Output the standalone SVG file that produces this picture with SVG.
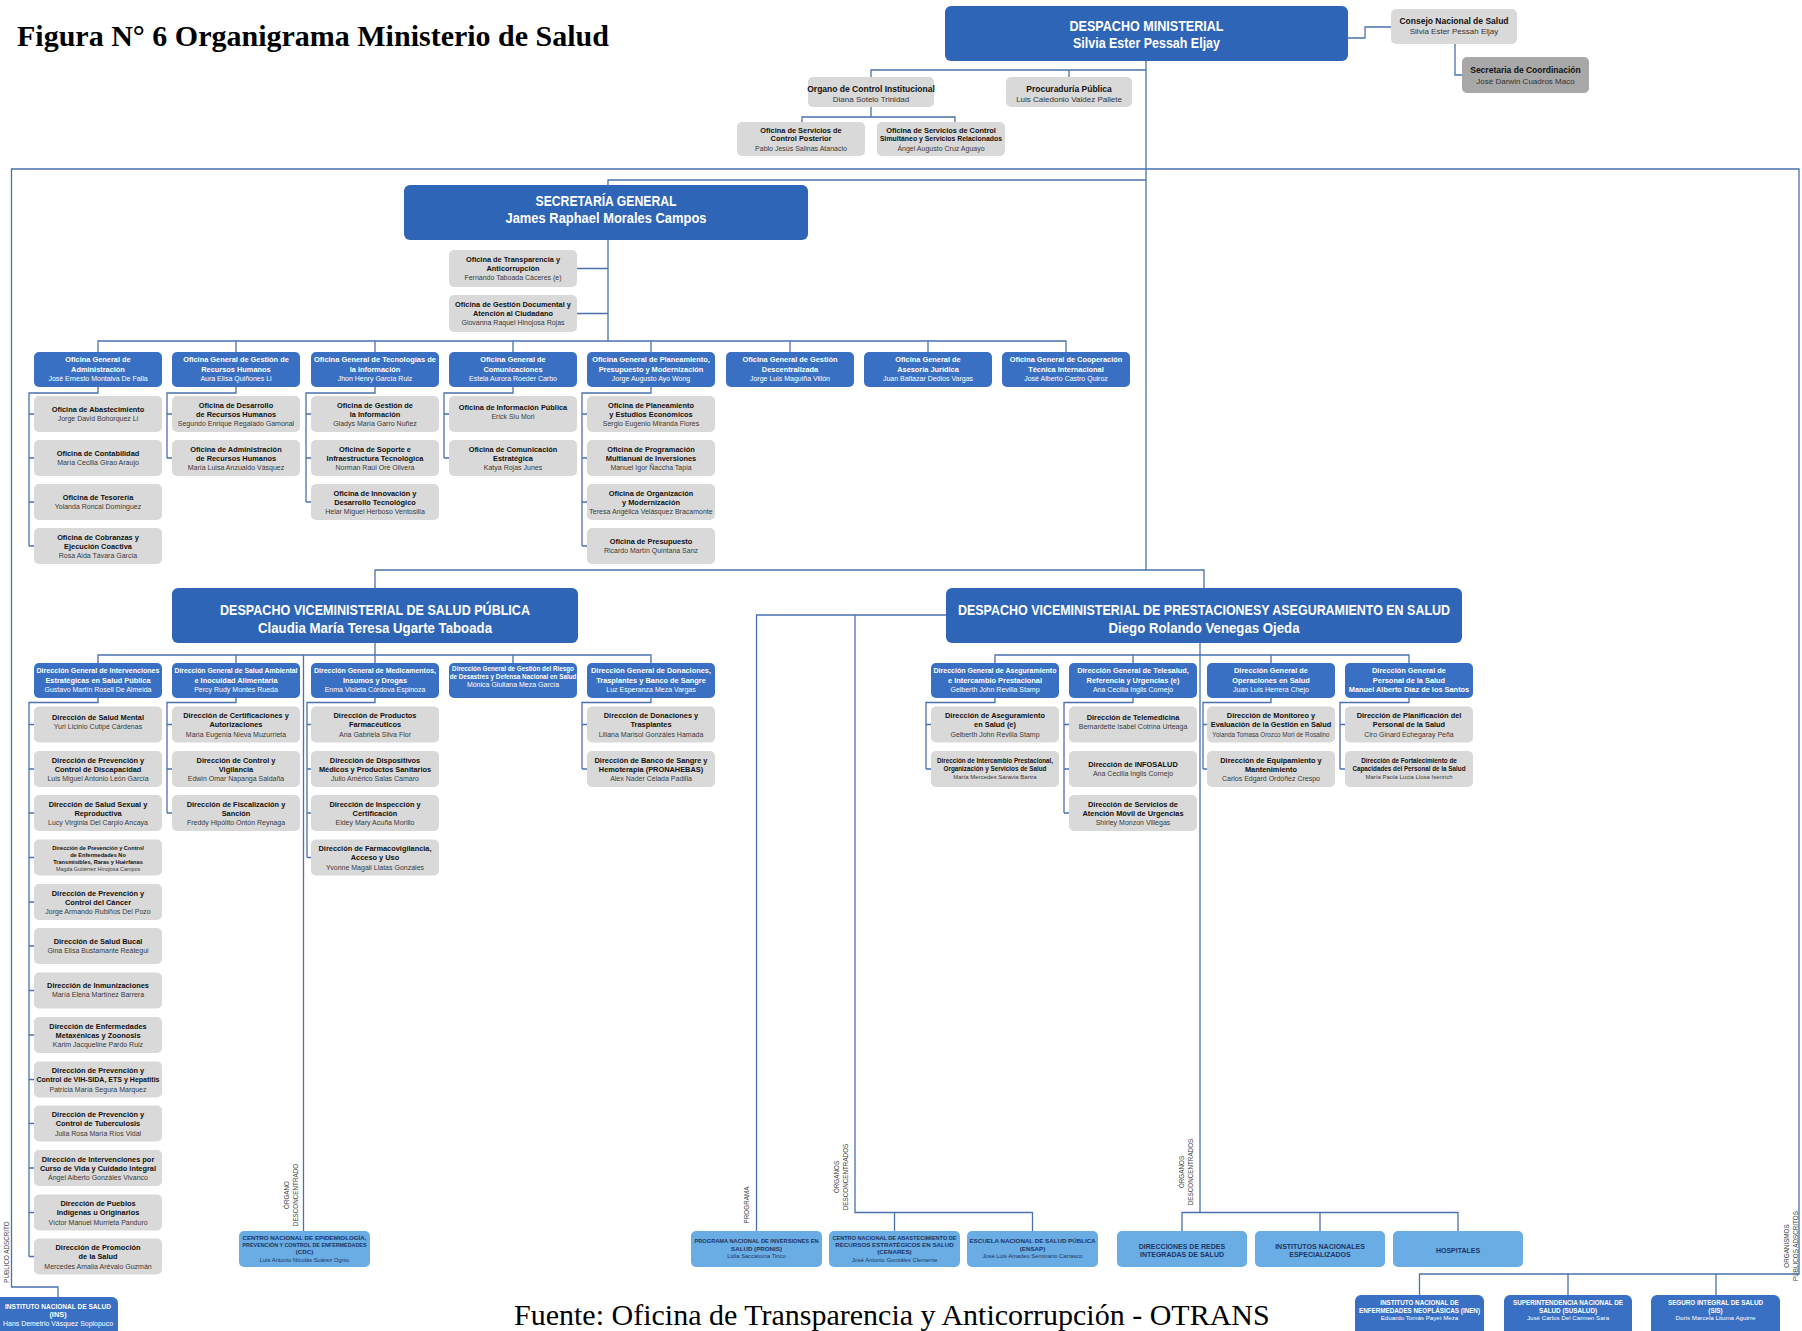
<svg xmlns="http://www.w3.org/2000/svg" width="1802" height="1331" viewBox="0 0 1802 1331">
<style>
.ln{fill:none;stroke:#4a71ad;stroke-width:1.3}
.bb{fill:#2f65b6}
.bs{fill:#3a70c4}
.gr{fill:#d9d9d9}
.gd{fill:#a8a8a8}
.lb{fill:#69ade4}
text{font-family:'Liberation Sans',Arial,sans-serif;text-anchor:middle}
.H{fill:#fff;font-weight:bold;font-size:15px}
.m1{fill:#111;font-weight:bold;font-size:8.5px}
.m2{fill:#333;font-size:8px}
.tb{fill:#111;font-weight:bold;font-size:7.4px}
.tn{fill:#3a3a3a;font-size:7px}
.tx{fill:#111;font-weight:bold;font-size:5.6px}
.tz{fill:#3a3a3a;font-size:5.4px}
.wb{fill:#fff;font-weight:bold;font-size:7.4px}
.wn{fill:#fff;font-size:7px}
.ws{fill:#fff;font-weight:bold;font-size:6.3px}
.lB{fill:#1e3566;font-weight:bold;font-size:6.2px}
.lN{fill:#1e3566;font-size:5.8px}
.rot{fill:#444;font-size:6.3px}
</style>
<rect x="0" y="0" width="1802" height="1331" fill="#fff"/>
<text x="17" y="46" style="font-family:'Liberation Serif','Times New Roman',serif;font-weight:bold;font-size:30px;text-anchor:start;fill:#000">Figura N° 6 Organigrama Ministerio de Salud</text>
<text x="514" y="1325" style="font-family:'Liberation Serif','Times New Roman',serif;font-size:30px;text-anchor:start;fill:#000">Fuente: Oficina de Transparencia y Anticorrupción - OTRANS</text>

<g id="connectors">
<path class="ln" d="M1348,38 H1365 V27 H1391"/>
<path class="ln" d="M1455,44 V75 H1462"/>
<path class="ln" d="M1146,61 V570"/>
<path class="ln" d="M871,77 V70 H1146 M1069,70 V77"/>
<path class="ln" d="M871,107 V117 M802,122 V117 H955 V122"/>
<path class="ln" d="M58,1297 V1287 H11.5 V169 H1799 V1274 H1419.5 V1295 M1568,1274 V1295 M1716,1274 V1295"/>
<path class="ln" d="M1146,180 H608 V185 M608,240 V341 M577,268.5 H608 M577,313.5 H608"/>
<path class="ln" d="M98,352 V341 H1066 V352 M236,341 V352 M375,341 V352 M513,341 V352 M651,341 V352 M790,341 V352 M928,341 V352"/>
<path class="ln" d="M98,387 V393 H29 V546 M29,414 H34 M29,458 H34 M29,502 H34 M29,546 H34"/>
<path class="ln" d="M236,387 V393 H167 V458 M167,414 H172 M167,458 H172"/>
<path class="ln" d="M375,387 V393 H306 V502 M306,414 H311 M306,458 H311 M306,502 H311"/>
<path class="ln" d="M513,387 V393 H444 V458 M444,414 H449 M444,458 H449"/>
<path class="ln" d="M651,387 V393 H582 V546 M582,414 H587 M582,458 H587 M582,502 H587 M582,546 H587"/>
<path class="ln" d="M375,588 V570 H1204 V588"/>
<path class="ln" d="M375,643 V655 M98,663 V655 H651 V663 M236,655 V663 M375,655 V663 M513,655 V663"/>
<path class="ln" d="M303.5,655 V1231"/>
<path class="ln" d="M98,698 V702.5 H29 V1256.5 M29,724.5 H34 M29,769 H34 M29,813 H34 M29,857.5 H34 M29,902 H34 M29,946 H34 M29,990.5 H34 M29,1035 H34 M29,1079.5 H34 M29,1123.5 H34 M29,1168 H34 M29,1212.5 H34 M29,1256.5 H34"/>
<path class="ln" d="M236,698 V702.5 H167 V813 M167,724.5 H172 M167,769 H172 M167,813 H172"/>
<path class="ln" d="M375,698 V702.5 H307 V857.5 M307,724.5 H311 M307,769 H311 M307,813 H311 M307,857.5 H311"/>
<path class="ln" d="M651,698 V702.5 H582 V769 M582,724.5 H587 M582,769 H587"/>
<path class="ln" d="M1200,643 V1212.5 M995,663 V655 H1409 V663 M1133,655 V663 M1271,655 V663"/>
<path class="ln" d="M995,698 V702.5 H926 V769 M926,724.5 H931 M926,769 H931"/>
<path class="ln" d="M1133,698 V702.5 H1064 V813 M1064,724.5 H1069 M1064,769 H1069 M1064,813 H1069"/>
<path class="ln" d="M1271,698 V702.5 H1203 V769 M1203,724.5 H1207 M1203,769 H1207"/>
<path class="ln" d="M1409,698 V702.5 H1340 V769 M1340,724.5 H1345 M1340,769 H1345"/>
<path class="ln" d="M946,615 H756.5 V1231 M855,615 V1212.5 H1032.5 V1231 M894.5,1212.5 V1231"/>
<path class="ln" d="M1182,1231 V1212.5 H1458 V1231 M1320,1212.5 V1231"/>
</g>

<g id="rotlabels">
<text class="rot" transform="translate(9,1252) rotate(-90)">PÚBLICO ADSCRITO</text>
<text class="rot" transform="translate(289,1195) rotate(-90)">ÓRGANO</text>
<text class="rot" transform="translate(297.5,1195) rotate(-90)">DESCONCENTRADO</text>
<text class="rot" transform="translate(749,1205) rotate(-90)">PROGRAMA</text>
<text class="rot" transform="translate(839,1177) rotate(-90)">ÓRGANOS</text>
<text class="rot" transform="translate(847.5,1177) rotate(-90)">DESCONCENTRADOS</text>
<text class="rot" transform="translate(1184,1172) rotate(-90)">ÓRGANOS</text>
<text class="rot" transform="translate(1192.5,1172) rotate(-90)">DESCONCENTRADOS</text>
<text class="rot" transform="translate(1789,1246) rotate(-90)">ORGANISMOS</text>
<text class="rot" transform="translate(1797.5,1246) rotate(-90)">PÚBLICOS ADSCRITOS</text>
</g>

<g id="despacho-ministerial"><rect class="bb" x="945" y="6" width="403" height="55" rx="6"/><text class="H" x="1146.5" y="30.5" textLength="154" lengthAdjust="spacingAndGlyphs">DESPACHO MINISTERIAL</text><text class="H" x="1146.5" y="47.5" textLength="147" lengthAdjust="spacingAndGlyphs">Silvia Ester Pessah Eljay</text></g>
<g id="consejo"><rect class="gr" x="1391" y="9" width="126" height="35" rx="5"/><text class="m1" x="1454" y="23.5">Consejo Nacional de Salud</text><text class="m2" x="1454" y="34">Silvia Ester Pessah Eljay</text></g>
<g id="secretaria-coord"><rect class="gd" x="1462" y="57" width="127" height="36" rx="5"/><text class="m1" x="1525.5" y="72.5">Secretaria de Coordinación</text><text class="m2" x="1525.5" y="83.5">José Darwin Cuadros Maco</text></g>
<g id="organo-control"><rect class="gr" x="808" y="77" width="126" height="30" rx="5"/><text class="m1" x="871" y="91.5">Organo de Control Institucional</text><text class="m2" x="871" y="101.5">Diana Sotelo Trinidad</text></g>
<g id="procuraduria"><rect class="gr" x="1006" y="77" width="126" height="30" rx="5"/><text class="m1" x="1069" y="91.5">Procuraduría Pública</text><text class="m2" x="1069" y="101.5">Luis Caledonio Valdez Pallete</text></g>
<g id="control-posterior"><rect class="gr" x="737" y="122" width="128" height="34" rx="5"/><text class="tb" x="801" y="132.5">Oficina de Servicios de</text><text class="tb" x="801" y="141">Control Posterior</text><text class="tn" x="801" y="150.5">Pablo Jesús Salinas Atanacio</text></g>
<g id="control-simultaneo"><rect class="gr" x="877" y="122" width="128" height="34" rx="5"/><text class="tb" x="941" y="132.5">Oficina de Servicios de Control</text><text class="tb" x="941" y="141" textLength="122" lengthAdjust="spacingAndGlyphs">Simultáneo y Servicios Relacionados</text><text class="tn" x="941" y="150.5">Ángel Augusto Cruz Aguayo</text></g>

<g id="secretaria-general"><rect class="bb" x="404" y="185" width="404" height="55" rx="6"/><text class="H" x="606" y="206" textLength="141" lengthAdjust="spacingAndGlyphs">SECRETARÍA GENERAL</text><text class="H" x="606" y="223" textLength="201" lengthAdjust="spacingAndGlyphs">James Raphael Morales Campos</text></g>
<g id="transparencia"><rect class="gr" x="449" y="250" width="128" height="37" rx="5"/><text class="tb" x="513" y="261.5">Oficina de Transparencia y</text><text class="tb" x="513" y="270.5">Anticorrupción</text><text class="tn" x="513" y="280">Fernando Taboada Cáceres (e)</text></g>
<g id="gestion-documental"><rect class="gr" x="449" y="295" width="128" height="37" rx="5"/><text class="tb" x="513" y="306.5">Oficina de Gestión Documental y</text><text class="tb" x="513" y="315.5">Atención al Ciudadano</text><text class="tn" x="513" y="325">Giovanna Raquel Hinojosa Rojas</text></g>

<g id="og-administracion"><rect class="bs" x="34" y="352" width="128" height="35" rx="5"/><text class="wb" x="98" y="362">Oficina General de</text><text class="wb" x="98" y="371.5">Administración</text><text class="wn" x="98" y="381">José Ernesto Montalva De Falla</text></g>
<g id="og-rrhh"><rect class="bs" x="172" y="352" width="128" height="35" rx="5"/><text class="wb" x="236" y="362">Oficina General de Gestión de</text><text class="wb" x="236" y="371.5">Recursos Humanos</text><text class="wn" x="236" y="381">Aura Elisa Quiñones Li</text></g>
<g id="og-ti"><rect class="bs" x="311" y="352" width="128" height="35" rx="5"/><text class="wb" x="375" y="362" textLength="122" lengthAdjust="spacingAndGlyphs">Oficina General de Tecnologías de</text><text class="wb" x="375" y="371.5">la Información</text><text class="wn" x="375" y="381">Jhon Henry García Ruiz</text></g>
<g id="og-comunicaciones"><rect class="bs" x="449" y="352" width="128" height="35" rx="5"/><text class="wb" x="513" y="362">Oficina General de</text><text class="wb" x="513" y="371.5">Comunicaciones</text><text class="wn" x="513" y="381">Estela Aurora Roeder Carbo</text></g>
<g id="og-planeamiento"><rect class="bs" x="587" y="352" width="128" height="35" rx="5"/><text class="wb" x="651" y="362">Oficina General de Planeamiento,</text><text class="wb" x="651" y="371.5">Presupuesto y Modernización</text><text class="wn" x="651" y="381">Jorge Augusto Ayo Wong</text></g>
<g id="og-descentralizada"><rect class="bs" x="726" y="352" width="128" height="35" rx="5"/><text class="wb" x="790" y="362">Oficina General de Gestión</text><text class="wb" x="790" y="371.5">Descentralizada</text><text class="wn" x="790" y="381">Jorge Luis Maguiña Villón</text></g>
<g id="og-juridica"><rect class="bs" x="864" y="352" width="128" height="35" rx="5"/><text class="wb" x="928" y="362">Oficina General de</text><text class="wb" x="928" y="371.5">Asesoría Jurídica</text><text class="wn" x="928" y="381">Juan Baltazar Dedios Vargas</text></g>
<g id="og-cooperacion"><rect class="bs" x="1002" y="352" width="128" height="35" rx="5"/><text class="wb" x="1066" y="362">Oficina General de Cooperación</text><text class="wb" x="1066" y="371.5">Técnica Internacional</text><text class="wn" x="1066" y="381">José Alberto Castro Quiroz</text></g>

<g id="of-abastecimiento"><rect class="gr" x="34" y="396" width="128" height="36" rx="5"/><text class="tb" x="98" y="411.5">Oficina de Abastecimiento</text><text class="tn" x="98" y="420.5">Jorge David Bohorquez Li</text></g>
<g id="of-contabilidad"><rect class="gr" x="34" y="440" width="128" height="36" rx="5"/><text class="tb" x="98" y="455.5">Oficina de Contabilidad</text><text class="tn" x="98" y="464.5">María Cecilia Girao Araujo</text></g>
<g id="of-tesoreria"><rect class="gr" x="34" y="484" width="128" height="36" rx="5"/><text class="tb" x="98" y="499.5">Oficina de Tesorería</text><text class="tn" x="98" y="508.5">Yolanda Roncal Domínguez</text></g>
<g id="of-cobranzas"><rect class="gr" x="34" y="528" width="128" height="36" rx="5"/><text class="tb" x="98" y="539.5">Oficina de Cobranzas y</text><text class="tb" x="98" y="548.5">Ejecución Coactiva</text><text class="tn" x="98" y="558">Rosa Aida Távara García</text></g>
<g id="of-desarrollo-rrhh"><rect class="gr" x="172" y="396" width="128" height="36" rx="5"/><text class="tb" x="236" y="407.5">Oficina de Desarrollo</text><text class="tb" x="236" y="416.5">de Recursos Humanos</text><text class="tn" x="236" y="426">Segundo Enrique Regalado Gamonal</text></g>
<g id="of-administracion-rrhh"><rect class="gr" x="172" y="440" width="128" height="36" rx="5"/><text class="tb" x="236" y="451.5">Oficina de Administración</text><text class="tb" x="236" y="460.5">de Recursos Humanos</text><text class="tn" x="236" y="470">María Luisa Anzualdo Vásquez</text></g>
<g id="of-gestion-informacion"><rect class="gr" x="311" y="396" width="128" height="36" rx="5"/><text class="tb" x="375" y="407.5">Oficina de Gestión de</text><text class="tb" x="375" y="416.5">la Información</text><text class="tn" x="375" y="426">Gladys María Garro Nuñez</text></g>
<g id="of-soporte"><rect class="gr" x="311" y="440" width="128" height="36" rx="5"/><text class="tb" x="375" y="451.5">Oficina de Soporte e</text><text class="tb" x="375" y="460.5">Infraestructura Tecnológica</text><text class="tn" x="375" y="470">Norman Raúl Oré Olivera</text></g>
<g id="of-innovacion"><rect class="gr" x="311" y="484" width="128" height="36" rx="5"/><text class="tb" x="375" y="495.5">Oficina de Innovación y</text><text class="tb" x="375" y="504.5">Desarrollo Tecnológico</text><text class="tn" x="375" y="514">Helar Miguel Herboso Ventosilla</text></g>
<g id="of-informacion-publica"><rect class="gr" x="449" y="396" width="128" height="36" rx="5"/><text class="tb" x="513" y="410">Oficina de Información Pública</text><text class="tn" x="513" y="419">Erick Siu Mori</text></g>
<g id="of-comunicacion-estrategica"><rect class="gr" x="449" y="440" width="128" height="36" rx="5"/><text class="tb" x="513" y="451.5">Oficina de Comunicación</text><text class="tb" x="513" y="460.5">Estratégica</text><text class="tn" x="513" y="470">Katya Rojas Junes</text></g>
<g id="of-planeamiento"><rect class="gr" x="587" y="396" width="128" height="36" rx="5"/><text class="tb" x="651" y="407.5">Oficina de Planeamiento</text><text class="tb" x="651" y="416.5">y Estudios Económicos</text><text class="tn" x="651" y="426">Sergio Eugenio Miranda Flores</text></g>
<g id="of-programacion"><rect class="gr" x="587" y="440" width="128" height="36" rx="5"/><text class="tb" x="651" y="451.5">Oficina de Programación</text><text class="tb" x="651" y="460.5">Multianual de Inversiones</text><text class="tn" x="651" y="470">Manuel Igor Ñaccha Tapia</text></g>
<g id="of-organizacion"><rect class="gr" x="587" y="484" width="128" height="36" rx="5"/><text class="tb" x="651" y="495.5">Oficina de Organización</text><text class="tb" x="651" y="504.5">y Modernización</text><text class="tn" x="651" y="514">Teresa Angélica Velásquez Bracamonte</text></g>
<g id="of-presupuesto"><rect class="gr" x="587" y="528" width="128" height="36" rx="5"/><text class="tb" x="651" y="543.5">Oficina de Presupuesto</text><text class="tn" x="651" y="552.5">Ricardo Martín Quintana Sanz</text></g>

<g id="vm-salud-publica"><rect class="bb" x="172" y="588" width="406" height="55" rx="6"/><text class="H" x="375" y="615" textLength="310" lengthAdjust="spacingAndGlyphs">DESPACHO VICEMINISTERIAL DE SALUD PÚBLICA</text><text class="H" x="375" y="633" textLength="234" lengthAdjust="spacingAndGlyphs">Claudia María Teresa Ugarte Taboada</text></g>
<g id="vm-prestaciones"><rect class="bb" x="946" y="588" width="516" height="55" rx="6"/><text class="H" x="1204" y="615" textLength="492" lengthAdjust="spacingAndGlyphs">DESPACHO VICEMINISTERIAL DE PRESTACIONESY ASEGURAMIENTO EN SALUD</text><text class="H" x="1204" y="633" textLength="191" lengthAdjust="spacingAndGlyphs">Diego Rolando Venegas Ojeda</text></g>

<g id="dg-intervenciones"><rect class="bs" x="34" y="663" width="128" height="35" rx="5"/><text class="wb" x="98" y="673" textLength="123" lengthAdjust="spacingAndGlyphs">Dirección General de Intervenciones</text><text class="wb" x="98" y="682.5">Estratégicas en Salud Pública</text><text class="wn" x="98" y="692">Gustavo Martín Rosell De Almeida</text></g>
<g id="dg-salud-ambiental"><rect class="bs" x="172" y="663" width="128" height="35" rx="5"/><text class="wb" x="236" y="673" textLength="123" lengthAdjust="spacingAndGlyphs">Dirección General de Salud Ambiental</text><text class="wb" x="236" y="682.5">e Inocuidad Alimentaria</text><text class="wn" x="236" y="692">Percy Rudy Montes Rueda</text></g>
<g id="dg-medicamentos"><rect class="bs" x="311" y="663" width="128" height="35" rx="5"/><text class="wb" x="375" y="673" textLength="122" lengthAdjust="spacingAndGlyphs">Dirección General de Medicamentos,</text><text class="wb" x="375" y="682.5">Insumos y Drogas</text><text class="wn" x="375" y="692">Enma Violeta Córdova Espinoza</text></g>
<g id="dg-riesgo"><rect class="bs" x="449" y="663" width="128" height="35" rx="5"/><text class="ws" x="513" y="671">Dirección General de Gestión del Riesgo</text><text class="ws" x="513" y="678.5">de Desastres y Defensa Nacional en Salud</text><text class="wn" x="513" y="686.5">Mónica Giuliana Meza García</text></g>
<g id="dg-donaciones"><rect class="bs" x="587" y="663" width="128" height="35" rx="5"/><text class="wb" x="651" y="673">Dirección General de Donaciones,</text><text class="wb" x="651" y="682.5">Trasplantes y Banco de Sangre</text><text class="wn" x="651" y="692">Luz Esperanza Meza Vargas</text></g>

<g id="d-salud-mental"><rect class="gr" x="34" y="706.5" width="128" height="36" rx="5"/><text class="tb" x="98" y="720">Dirección de Salud Mental</text><text class="tn" x="98" y="729">Yuri Licinio Cutipé Cárdenas</text></g>
<g id="d-discapacidad"><rect class="gr" x="34" y="751" width="128" height="36" rx="5"/><text class="tb" x="98" y="762.5">Dirección de Prevención y</text><text class="tb" x="98" y="771.5">Control de Discapacidad</text><text class="tn" x="98" y="781">Luis Miguel Antonio León García</text></g>
<g id="d-salud-sexual"><rect class="gr" x="34" y="795" width="128" height="36" rx="5"/><text class="tb" x="98" y="806.5">Dirección de Salud Sexual y</text><text class="tb" x="98" y="815.5">Reproductiva</text><text class="tn" x="98" y="825">Lucy Virginia Del Carpio Ancaya</text></g>
<g id="d-no-transmisibles"><rect class="gr" x="34" y="839.5" width="128" height="36" rx="5"/><text class="tx" x="98" y="850">Dirección de Prevención y Control</text><text class="tx" x="98" y="857">de Enfermedades No</text><text class="tx" x="98" y="863.5">Transmisibles, Raras y Huérfanas</text><text class="tz" x="98" y="871">Magda Gutiérrez Hinojosa Campos</text></g>
<g id="d-cancer"><rect class="gr" x="34" y="884" width="128" height="36" rx="5"/><text class="tb" x="98" y="895.5">Dirección de Prevención y</text><text class="tb" x="98" y="904.5">Control del Cáncer</text><text class="tn" x="98" y="914">Jorge Armando Rubiños Del Pozo</text></g>
<g id="d-salud-bucal"><rect class="gr" x="34" y="928" width="128" height="36" rx="5"/><text class="tb" x="98" y="943.5">Dirección de Salud Bucal</text><text class="tn" x="98" y="952.5">Gina Elisa Bustamante Reátegui</text></g>
<g id="d-inmunizaciones"><rect class="gr" x="34" y="972.5" width="128" height="36" rx="5"/><text class="tb" x="98" y="988">Dirección de Inmunizaciones</text><text class="tn" x="98" y="997">María Elena Martínez Barrera</text></g>
<g id="d-metaxenicas"><rect class="gr" x="34" y="1017" width="128" height="36" rx="5"/><text class="tb" x="98" y="1028.5">Dirección de Enfermedades</text><text class="tb" x="98" y="1037.5">Metaxénicas y Zoonosis</text><text class="tn" x="98" y="1047">Karim Jacqueline Pardo Ruiz</text></g>
<g id="d-vih"><rect class="gr" x="34" y="1061.5" width="128" height="36" rx="5"/><text class="tb" x="98" y="1073">Dirección de Prevención y</text><text class="tb" x="98" y="1082" textLength="123" lengthAdjust="spacingAndGlyphs">Control de VIH-SIDA, ETS y Hepatitis</text><text class="tn" x="98" y="1091.5">Patricia María Segura Marquez</text></g>
<g id="d-tuberculosis"><rect class="gr" x="34" y="1105.5" width="128" height="36" rx="5"/><text class="tb" x="98" y="1117">Dirección de Prevención y</text><text class="tb" x="98" y="1126">Control de Tuberculosis</text><text class="tn" x="98" y="1135.5">Julia Rosa María Ríos Vidal</text></g>
<g id="d-curso-vida"><rect class="gr" x="34" y="1150" width="128" height="36" rx="5"/><text class="tb" x="98" y="1161.5">Dirección de Intervenciones por</text><text class="tb" x="98" y="1170.5">Curso de Vida y Cuidado Integral</text><text class="tn" x="98" y="1180">Ángel Alberto Gonzáles Vivanco</text></g>
<g id="d-pueblos"><rect class="gr" x="34" y="1194.5" width="128" height="36" rx="5"/><text class="tb" x="98" y="1206">Dirección de Pueblos</text><text class="tb" x="98" y="1215">Indígenas u Originarios</text><text class="tn" x="98" y="1224.5">Víctor Manuel Murrieta Panduro</text></g>
<g id="d-promocion"><rect class="gr" x="34" y="1238.5" width="128" height="36" rx="5"/><text class="tb" x="98" y="1250">Dirección de Promoción</text><text class="tb" x="98" y="1259">de la Salud</text><text class="tn" x="98" y="1268.5">Mercedes Amalia Arévalo Guzmán</text></g>

<g id="d-certificaciones"><rect class="gr" x="172" y="706.5" width="128" height="36" rx="5"/><text class="tb" x="236" y="718">Dirección de Certificaciones y</text><text class="tb" x="236" y="727">Autorizaciones</text><text class="tn" x="236" y="736.5">María Eugenia Nieva Muzurrieta</text></g>
<g id="d-control-vigilancia"><rect class="gr" x="172" y="751" width="128" height="36" rx="5"/><text class="tb" x="236" y="762.5">Dirección de Control y</text><text class="tb" x="236" y="771.5">Vigilancia</text><text class="tn" x="236" y="781">Edwin Omar Napanga Saldaña</text></g>
<g id="d-fiscalizacion"><rect class="gr" x="172" y="795" width="128" height="36" rx="5"/><text class="tb" x="236" y="806.5">Dirección de Fiscalización y</text><text class="tb" x="236" y="815.5">Sanción</text><text class="tn" x="236" y="825">Freddy Hipólito Ontón Reynaga</text></g>
<g id="d-productos"><rect class="gr" x="311" y="706.5" width="128" height="36" rx="5"/><text class="tb" x="375" y="718">Dirección de Productos</text><text class="tb" x="375" y="727">Farmacéuticos</text><text class="tn" x="375" y="736.5">Ana Gabriela Silva Flor</text></g>
<g id="d-dispositivos"><rect class="gr" x="311" y="751" width="128" height="36" rx="5"/><text class="tb" x="375" y="762.5">Dirección de Dispositivos</text><text class="tb" x="375" y="771.5">Médicos y Productos Sanitarios</text><text class="tn" x="375" y="781">Julio Américo Salas Camaro</text></g>
<g id="d-inspeccion"><rect class="gr" x="311" y="795" width="128" height="36" rx="5"/><text class="tb" x="375" y="806.5">Dirección de Inspección y</text><text class="tb" x="375" y="815.5">Certificación</text><text class="tn" x="375" y="825">Eldey Mary Acuña Morillo</text></g>
<g id="d-farmacovigilancia"><rect class="gr" x="311" y="839.5" width="128" height="36" rx="5"/><text class="tb" x="375" y="851">Dirección de Farmacovigilancia,</text><text class="tb" x="375" y="860">Acceso y Uso</text><text class="tn" x="375" y="869.5">Yvonne Magali Llatas Gonzales</text></g>
<g id="d-donaciones"><rect class="gr" x="587" y="706.5" width="128" height="36" rx="5"/><text class="tb" x="651" y="718">Dirección de Donaciones y</text><text class="tb" x="651" y="727">Trasplantes</text><text class="tn" x="651" y="736.5">Liliana Marisol Gonzáles Hamada</text></g>
<g id="d-banco-sangre"><rect class="gr" x="587" y="751" width="128" height="36" rx="5"/><text class="tb" x="651" y="762.5">Dirección de Banco de Sangre y</text><text class="tb" x="651" y="771.5">Hemoterapia (PRONAHEBAS)</text><text class="tn" x="651" y="781">Alex Nader Celada Padilla</text></g>

<g id="dg-aseguramiento"><rect class="bs" x="931" y="663" width="128" height="35" rx="5"/><text class="wb" x="995" y="673" textLength="123" lengthAdjust="spacingAndGlyphs">Dirección General de Aseguramiento</text><text class="wb" x="995" y="682.5">e Intercambio Prestacional</text><text class="wn" x="995" y="692">Gelberth John Revilla Stamp</text></g>
<g id="dg-telesalud"><rect class="bs" x="1069" y="663" width="128" height="35" rx="5"/><text class="wb" x="1133" y="673">Dirección General de Telesalud,</text><text class="wb" x="1133" y="682.5">Referencia y Urgencias (e)</text><text class="wn" x="1133" y="692">Ana Cecilia Inglis Cornejo</text></g>
<g id="dg-operaciones"><rect class="bs" x="1207" y="663" width="128" height="35" rx="5"/><text class="wb" x="1271" y="673">Dirección General de</text><text class="wb" x="1271" y="682.5">Operaciones en Salud</text><text class="wn" x="1271" y="692">Juan Luis Herrera Chejo</text></g>
<g id="dg-personal"><rect class="bs" x="1345" y="663" width="128" height="35" rx="5"/><text class="wb" x="1409" y="673">Dirección General de</text><text class="wb" x="1409" y="682.5">Personal de la Salud</text><text class="wb" x="1409" y="692">Manuel Alberto Díaz de los Santos</text></g>

<g id="d-aseguramiento"><rect class="gr" x="931" y="706.5" width="128" height="36" rx="5"/><text class="tb" x="995" y="718">Dirección de Aseguramiento</text><text class="tb" x="995" y="727">en Salud (e)</text><text class="tn" x="995" y="736.5">Gelberth John Revilla Stamp</text></g>
<g id="d-intercambio"><rect class="gr" x="931" y="751" width="128" height="36" rx="5"/><text class="tx" x="995" y="762.5" style="font-size:6.3px">Dirección de Intercambio Prestacional,</text><text class="tx" x="995" y="770.5" style="font-size:6.3px">Organización y Servicios de Salud</text><text class="tz" x="995" y="778.5" style="font-size:6px">María Mercedes Saravia Bartra</text></g>
<g id="d-telemedicina"><rect class="gr" x="1069" y="706.5" width="128" height="36" rx="5"/><text class="tb" x="1133" y="720">Dirección de Telemedicina</text><text class="tn" x="1133" y="729">Bernardette Isabel Cotrina Urteaga</text></g>
<g id="d-infosalud"><rect class="gr" x="1069" y="751" width="128" height="36" rx="5"/><text class="tb" x="1133" y="766.5">Dirección de INFOSALUD</text><text class="tn" x="1133" y="775.5">Ana Cecilia Inglis Cornejo</text></g>
<g id="d-atencion-movil"><rect class="gr" x="1069" y="795" width="128" height="36" rx="5"/><text class="tb" x="1133" y="806.5">Dirección de Servicios de</text><text class="tb" x="1133" y="815.5">Atención Móvil de Urgencias</text><text class="tn" x="1133" y="825">Shirley Monzon Villegas</text></g>
<g id="d-monitoreo"><rect class="gr" x="1207" y="706.5" width="128" height="36" rx="5"/><text class="tb" x="1271" y="718">Dirección de Monitoreo y</text><text class="tb" x="1271" y="727">Evaluación de la Gestión en Salud</text><text class="tn" x="1271" y="736.5" style="font-size:6.3px">Yolanda Tomasa Orozco Mori de Rosalino</text></g>
<g id="d-equipamiento"><rect class="gr" x="1207" y="751" width="128" height="36" rx="5"/><text class="tb" x="1271" y="762.5">Dirección de Equipamiento y</text><text class="tb" x="1271" y="771.5">Mantenimiento</text><text class="tn" x="1271" y="781">Carlos Edgard Ordóñez Crespo</text></g>
<g id="d-planificacion-personal"><rect class="gr" x="1345" y="706.5" width="128" height="36" rx="5"/><text class="tb" x="1409" y="718">Dirección de Planificación del</text><text class="tb" x="1409" y="727">Personal de la Salud</text><text class="tn" x="1409" y="736.5">Ciro Ginard Echegaray Peña</text></g>
<g id="d-fortalecimiento"><rect class="gr" x="1345" y="751" width="128" height="36" rx="5"/><text class="tx" x="1409" y="762.5" style="font-size:6.3px">Dirección de Fortalecimiento de</text><text class="tx" x="1409" y="770.5" style="font-size:6.3px">Capacidades del Personal de la Salud</text><text class="tz" x="1409" y="778.5" style="font-size:6px">María Paola Lucia Llosa Isenrich</text></g>

<g id="cdc"><rect class="lb" x="239" y="1231" width="131" height="36" rx="5"/><text class="lB" x="304.5" y="1240">CENTRO NACIONAL DE EPIDEMIOLOGÍA,</text><text class="lB" x="304.5" y="1247" textLength="124" lengthAdjust="spacingAndGlyphs">PREVENCIÓN Y CONTROL DE ENFERMEDADES</text><text class="lB" x="304.5" y="1254">(CDC)</text><text class="lN" x="304.5" y="1261.5">Luis Antonio Nicolás Suárez Ognio</text></g>
<g id="pronis"><rect class="lb" x="691" y="1231" width="131" height="36" rx="5"/><text class="lB" x="756.5" y="1243" textLength="124" lengthAdjust="spacingAndGlyphs">PROGRAMA NACIONAL DE INVERSIONES EN</text><text class="lB" x="756.5" y="1250.5">SALUD (PRONIS)</text><text class="lN" x="756.5" y="1258">Lidia Saccatoma Tinco</text></g>
<g id="cenares"><rect class="lb" x="829" y="1231" width="131" height="36" rx="5"/><text class="lB" x="894.5" y="1240" textLength="124" lengthAdjust="spacingAndGlyphs">CENTRO NACIONAL DE ABASTECIMIENTO DE</text><text class="lB" x="894.5" y="1247">RECURSOS ESTRATÉGICOS EN SALUD</text><text class="lB" x="894.5" y="1254">(CENARES)</text><text class="lN" x="894.5" y="1261.5">José Antonio Gonzáles Clemente</text></g>
<g id="ensap"><rect class="lb" x="967" y="1231" width="131" height="36" rx="5"/><text class="lB" x="1032.5" y="1243">ESCUELA NACIONAL DE SALUD PÚBLICA</text><text class="lB" x="1032.5" y="1250.5">(ENSAP)</text><text class="lN" x="1032.5" y="1258">José Luis Amadeo Seminario Carrasco</text></g>
<g id="diris"><rect class="lb" x="1117" y="1231" width="130" height="36" rx="5"/><text class="lB" x="1182" y="1248.5" style="font-size:7px">DIRECCIONES DE REDES</text><text class="lB" x="1182" y="1256.5" style="font-size:7px">INTEGRADAS DE SALUD</text></g>
<g id="institutos"><rect class="lb" x="1255" y="1231" width="130" height="36" rx="5"/><text class="lB" x="1320" y="1248.5" style="font-size:7px">INSTITUTOS NACIONALES</text><text class="lB" x="1320" y="1256.5" style="font-size:7px">ESPECIALIZADOS</text></g>
<g id="hospitales"><rect class="lb" x="1393" y="1231" width="130" height="36" rx="5"/><text class="lB" x="1458" y="1252.5" style="font-size:7px">HOSPITALES</text></g>

<g id="ins"><rect class="bs" x="-8" y="1297" width="126" height="50" rx="6"/><text class="wb" x="58" y="1308.5" textLength="106" lengthAdjust="spacingAndGlyphs">INSTITUTO NACIONAL DE SALUD</text><text class="wb" x="58" y="1316.5">(INS)</text><text class="wn" x="58" y="1326" textLength="110" lengthAdjust="spacingAndGlyphs">Hans Demetrio Vásquez Soplopuco</text></g>
<g id="inen"><rect class="bs" x="1355" y="1295" width="129" height="50" rx="6"/><text class="ws" x="1419.5" y="1305">INSTITUTO NACIONAL DE</text><text class="ws" x="1419.5" y="1312.5">ENFERMEDADES NEOPLÁSICAS (INEN)</text><text class="wn" x="1419.5" y="1320" style="font-size:6.2px">Eduardo Tomás Payet Meza</text></g>
<g id="susalud"><rect class="bs" x="1504" y="1295" width="128" height="50" rx="6"/><text class="ws" x="1568" y="1305">SUPERINTENDENCIA NACIONAL DE</text><text class="ws" x="1568" y="1312.5">SALUD (SUSALUD)</text><text class="wn" x="1568" y="1320" style="font-size:6.2px">José Carlos Del Carmen Sara</text></g>
<g id="sis"><rect class="bs" x="1651" y="1295" width="129" height="50" rx="6"/><text class="ws" x="1715.5" y="1305">SEGURO INTEGRAL DE SALUD</text><text class="ws" x="1715.5" y="1312.5">(SIS)</text><text class="wn" x="1715.5" y="1320" style="font-size:6.2px">Doris Marcela Lituma Aguirre</text></g>
</svg>
